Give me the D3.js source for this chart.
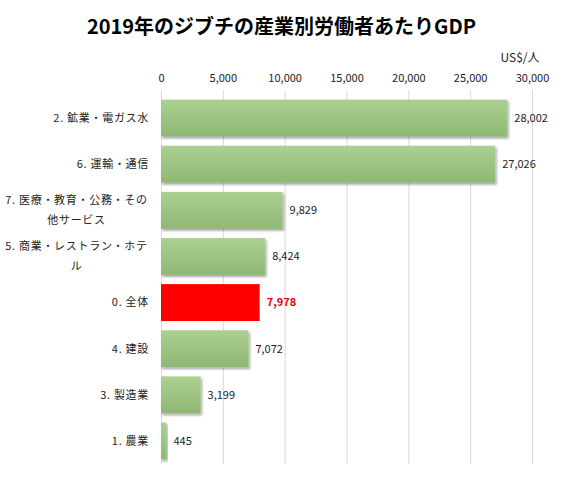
<!DOCTYPE html>
<html>
<head>
<meta charset="utf-8">
<script src="https://cdn.jsdelivr.net/npm/d3@7"></script>
<style>
  body { margin: 0; background: #fff; }
  text { font-family: "Noto Sans CJK JP", "Noto Sans", sans-serif; }
</style>
</head>
<body>
<div id="chart"></div>
<script>
// Data
const categories = [
    "2. 鉱業・電ガス水",
    "6. 運輸・通信",
    "7. 医療・教育・公務・その他サービス",
    "5. 商業・レストラン・ホテル",
    "0. 全体",
    "4. 建設",
    "3. 製造業",
    "1. 農業"
];
const values = [28002, 27026, 9829, 8424, 7978, 7072, 3199, 445];
const highlight = "0. 全体";
const tickValues = [0, 5000, 10000, 15000, 20000, 25000, 30000];

const width = 563, height = 480;
const margin = { top: 95, right: 31, bottom: 16, left: 161 };

const svg = d3.select("#chart").append("svg")
    .attr("width", width)
    .attr("height", height);

const defs = svg.append("defs");
const grad = defs.append("linearGradient")
    .attr("id", "barGrad")
    .attr("x1", 0).attr("y1", 0).attr("x2", 0).attr("y2", 1);
grad.append("stop").attr("offset", "0%").attr("stop-color", "#abd090");
grad.append("stop").attr("offset", "100%").attr("stop-color", "#8fb874");

const shadow = defs.append("filter").attr("id", "shadow")
    .attr("x", "-10%").attr("y", "-10%").attr("width", "130%").attr("height", "140%");
shadow.append("feDropShadow")
    .attr("dx", 1.5).attr("dy", 2).attr("stdDeviation", 1.2)
    .attr("flood-color", "#000").attr("flood-opacity", 0.35);

const x = d3.scaleLinear()
    .domain([0, 30000])
    .range([margin.left, width - margin.right]);

const y = d3.scaleBand()
    .domain(categories)
    .range([margin.top, height - margin.bottom])
    .paddingInner(0.2)
    .paddingOuter(0.1);

// Title
svg.append("text")
    .attr("x", width / 2)
    .attr("y", 34)
    .attr("text-anchor", "middle")
    .attr("font-size", 20)
    .attr("font-weight", "bold")
    .text("2019年のジブチの産業別労働者あたりGDP");

// Unit
svg.append("text")
    .attr("x", 520)
    .attr("y", 62)
    .attr("text-anchor", "middle")
    .attr("font-size", 12)
    .attr("fill", "#222")
    .text("US$/人");

// Top axis with gridlines
const axis = svg.append("g")
    .attr("transform", `translate(0,${margin.top - 5})`)
    .call(d3.axisTop(x)
        .tickValues(tickValues)
        .tickFormat(d3.format(","))
        .tickSize(-(height - margin.bottom - margin.top + 5))
        .tickPadding(8));
axis.select(".domain").remove();
axis.selectAll(".tick line").attr("stroke", "#d9d9d9");
axis.selectAll(".tick text")
    .attr("font-size", 11)
    .attr("fill", "#222")
    .attr("font-family", "\"Noto Sans CJK JP\", sans-serif");

// Bars
svg.selectAll(".bar")
    .data(categories)
    .enter().append("rect")
    .attr("class", "bar")
    .attr("x", x(0))
    .attr("y", d => y(d))
    .attr("width", (d, i) => x(values[i]) - x(0))
    .attr("height", y.bandwidth())
    .attr("fill", d => d === highlight ? "#ff0000" : "url(#barGrad)")
    .attr("filter", d => d === highlight ? null : "url(#shadow)");

// Value labels
svg.selectAll(".val")
    .data(categories)
    .enter().append("text")
    .attr("class", "val")
    .attr("x", (d, i) => x(values[i]) + 7)
    .attr("y", d => y(d) + y.bandwidth() / 2)
    .attr("dy", "0.35em")
    .attr("font-size", 11)
    .attr("fill", d => d === highlight ? "#e00000" : "#222")
    .attr("font-weight", d => d === highlight ? "bold" : "normal")
    .text((d, i) => d3.format(",")(values[i]));

// Category labels, wrapped like the spreadsheet does
const labelRight = 149, labelLeft = 4, maxW = labelRight - labelLeft;
const labels = svg.append("g");
categories.forEach(cat => {
    const t = labels.append("text")
        .attr("font-size", 11)
        .attr("letter-spacing", 0.7)
        .attr("fill", "#222");
    // split into lines by measuring
    const lines = [];
    let cur = "";
    const probe = t.append("tspan");
    for (const ch of cat) {
        probe.text(cur + ch);
        if (probe.node().getComputedTextLength() > maxW && cur) {
            lines.push(cur);
            cur = ch;
        } else {
            cur += ch;
        }
    }
    lines.push(cur);
    probe.remove();

    const cy = y(cat) + y.bandwidth() / 2;
    const lh = 20;
    const multi = lines.length > 1;
    t.attr("text-anchor", multi ? "middle" : "end");
    lines.forEach((ln, i) => {
        t.append("tspan")
            .attr("x", multi ? (labelLeft + labelRight) / 2 : labelRight)
            .attr("y", cy + (i - (lines.length - 1) / 2) * lh)
            .attr("dy", "0.35em")
            .text(ln);
    });
});
</script>
</body>
</html>
